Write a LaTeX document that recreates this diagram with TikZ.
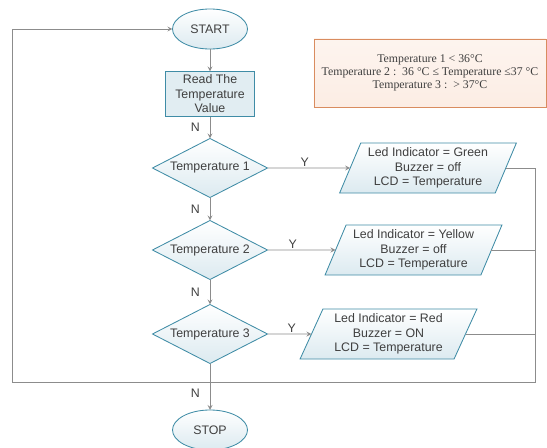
\documentclass[tikz,border=0pt]{standalone}
\usepackage{fontspec}
\setmainfont{Liberation Sans}
\newfontfamily\legendfont{Liberation Serif}
\usetikzlibrary{shapes.geometric}

\definecolor{edgeblue}{HTML}{3F8CA6}
\definecolor{paleblue}{HTML}{DCEAF0}
\definecolor{linegrey}{HTML}{8C8C8C}
\definecolor{textgrey}{HTML}{3F3F3F}
\definecolor{peach}{HTML}{FCEDE4}
\definecolor{orangeedge}{HTML}{D98C5F}

\tikzset{
  base/.style = {draw=edgeblue, line width=0.6pt, text=textgrey, align=center,
    font=\fontsize{8.8}{10.3}\selectfont, inner sep=0pt, outer sep=0pt},
  shaded/.style = {top color=white, bottom color=paleblue},
  terminal/.style = {base, shaded, ellipse, minimum width=1.875cm, minimum height=1cm},
  process/.style = {base, fill=paleblue!85, minimum width=2.225cm, minimum height=1.125cm},
  decision/.style = {base, shaded, diamond, aspect=2, minimum width=2.875cm, minimum height=1.475cm},
  io/.style = {base, shaded, trapezium, trapezium left angle=65, trapezium right angle=115,
    trapezium stretches=true, minimum width=4.425cm, minimum height=1.25cm},
  legend/.style = {draw=orangeedge, line width=0.6pt, top color=peach!60, bottom color=peach,
    text=textgrey, align=center, font=\legendfont\fontsize{8.4}{9.3}\selectfont,
    minimum width=5.8cm, minimum height=1.7cm, inner sep=0pt},
  line/.style = {draw=linegrey, line width=0.6pt},
  lbl/.style = {text=textgrey, font=\fontsize{8.8}{10.3}\selectfont, inner sep=1pt},
}

\begin{document}
\begin{tikzpicture}[x=0.025cm, y=-0.025cm, >=stealth]
  \useasboundingbox (0,0) rectangle (547,448);
  % temperature ranges
  \node[legend] (key) at (430,73) {Temperature 1 < 36°C\\
    Temperature 2 :\ \ 36 °C ≤ Temperature ≤37 °C\\
    Temperature 3 :\ \ > 37°C};
  % main column
  \node[terminal] (start) at (210,29) {START};
  \node[process] (read) at (210,94) {Read The\\Temperature\\Value};
  \node[decision] (t1) at (210,168) {Temperature 1};
  \node[decision] (t2) at (210,250) {Temperature 2};
  \node[decision] (t3) at (210,334) {Temperature 3};
  \node[terminal] (stop) at (210,430) {STOP};
  % outputs
  \node[io] (green) at (428,168) {Led Indicator = Green\\Buzzer = off\\LCD = Temperature};
  \node[io] (yellow) at (413.5,250) {Led Indicator = Yellow\\Buzzer = off\\LCD = Temperature};
  \node[io] (red) at (388.5,334) {Led Indicator = Red\\Buzzer = ON\\LCD = Temperature};
  \coordinate (br) at (535,382);
  \coordinate (bl) at (12,382);

  \draw[line,->] (start) -- (read);
  \draw[line,->] (read) -- node[lbl,left=6pt]{N} (t1);
  \draw[line,->] (t1) -- node[lbl,left=6pt]{N} (t2);
  \draw[line,->] (t2) -- node[lbl,left=6pt]{N} (t3);
  \draw[line,->] (t3) -- node[lbl,left=6pt,pos=0.65]{N} (stop);
  \draw[line,->] (t1.east) -- node[lbl,above,pos=0.45]{Y} (green.west);
  \draw[line,->] (t2.east) -- node[lbl,above,pos=0.37]{Y} (yellow.west);
  \draw[line,->] (t3.east) -- node[lbl,above,pos=0.55]{Y} (red.west);
  % back to start
  \draw[line,->] (green.east) -- (green.east -| br) -- (br) -- (bl) |- (start.west);
  \draw[line] (yellow.east) -- (yellow.east -| br);
  \draw[line] (red.east) -- (red.east -| br);
\end{tikzpicture}
\end{document}
